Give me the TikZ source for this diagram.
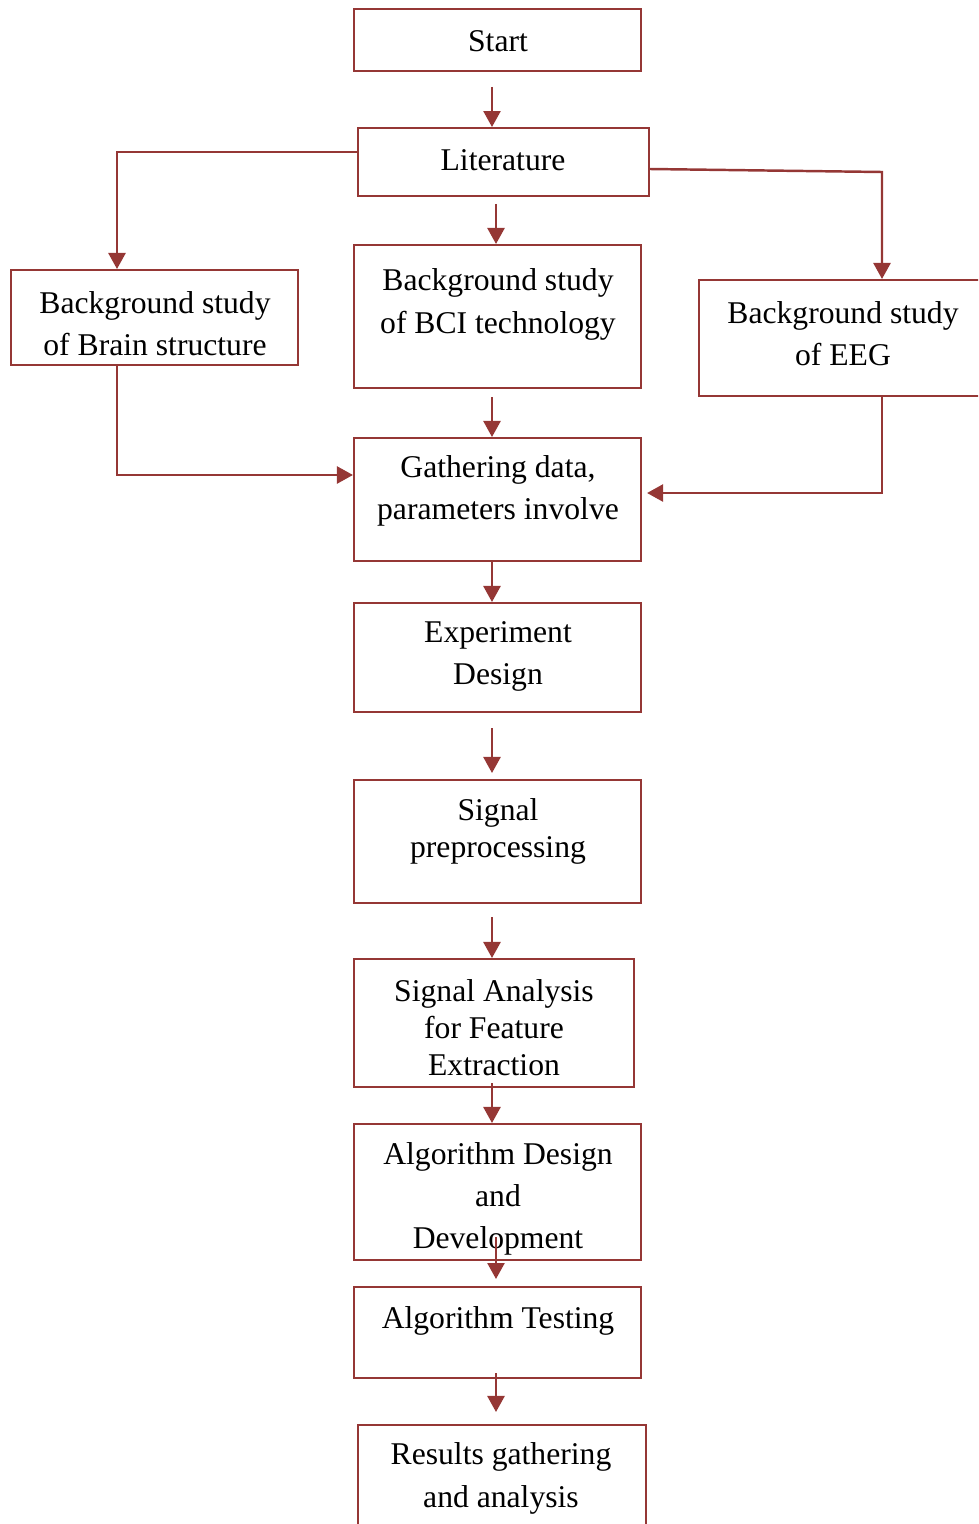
\documentclass[tikz,border=0pt]{standalone}
\usepackage{fontspec}
\setmainfont{Liberation Serif}
\usepackage{tikz}
\usetikzlibrary{arrows.meta,positioning}
\definecolor{boxred}{HTML}{953735}
\tikzstyle{box}=[draw=boxred,line width=0.55pt,inner sep=0pt]
\tikzstyle{txt}=[align=center,inner sep=0pt,yshift=-0.025cm,font=\fontsize{9}{12}\selectfont]
\tikzstyle{tight}=[font=\fontsize{9}{10.5}\selectfont]
\tikzstyle{arr}=[draw=boxred,line width=0.7pt,-{Triangle[length=0.16cm,width=0.17cm]}]

\begin{document}
\begin{tikzpicture}[x=0.01cm,y=-0.01cm]
	\useasboundingbox (0,0) rectangle (978,1524);
	\clip (0,0) rectangle (978,1524);
	\node[box,minimum width=2.87cm,minimum height=0.62cm] (start) at (497.5,40) {};
	\node[box,minimum width=2.91cm,minimum height=0.68cm] (lit) at (503.5,162) {};
	\node[box,minimum width=2.87cm,minimum height=0.95cm] (brain) at (154.5,317.5) {};
	\node[box,minimum width=2.87cm,minimum height=1.43cm] (bci) at (497.5,316.5) {};
	\node[box,minimum width=2.83cm,minimum height=1.16cm] (eeg) at (840.5,338) {};
	\node[box,minimum width=2.87cm,minimum height=1.23cm] (gath) at (497.5,499.5) {};
	\node[box,minimum width=2.87cm,minimum height=1.09cm] (exp) at (497.5,657.5) {};
	\node[box,minimum width=2.87cm,minimum height=1.23cm] (sig) at (497.5,841.5) {};
	\node[box,minimum width=2.80cm,minimum height=1.28cm] (ana) at (494,1023) {};
	\node[box,minimum width=2.87cm,minimum height=1.36cm] (alg) at (497.5,1192) {};
	\node[box,minimum width=2.87cm,minimum height=0.91cm] (test) at (497.5,1332.5) {};
	\node[box,minimum width=2.88cm,minimum height=1.30cm] (res) at (502,1490) {};

	\node[txt] (startT) at (498,39) {Start};
	\node[txt] (litT) at (503,158) {Literature};
	\node[txt] (brainT) at (155,321) {Background study\\of Brain structure};
	\node[txt] (bciT) at (498,302) {Background study\\of BCI technology};
	\node[txt] (eegT) at (843,331) {Background study\\of EEG};
	\node[txt] (gathT) at (498,488.5) {Gathering data,\\parameters involve};
	\node[txt] (expT) at (498,654) {Experiment\\Design};
	\node[txt,tight] (sigT) at (498,828.5) {Signal\\preprocessing};
	\node[txt,tight] (anaT) at (494,1025.5) {Signal Analysis\\for Feature\\Extraction};
	\node[txt] (algT) at (498,1196.5) {Algorithm Design\\and\\Development};
	\node[txt] (testT) at (498,1318) {Algorithm Testing};
	\node[txt] (resT) at (501,1476) {Results gathering\\and analysis};

	\coordinate (r1) at (882,172);
	\draw[arr,shorten <=0.15cm] (start.south -| 492,0) -- (lit.north -| 492,0);
	\draw[arr,shorten <=0.07cm] (lit.south -| 496,0) -- (bci.north -| 496,0);
	\draw[arr] (lit.west |- 0,152) -| (brain.north -| 117,0);
	\draw[arr] (lit.east |- 0,169) -- (r1) -- (eeg.north -| 882,0);
	\draw[arr,shorten <=0.08cm] (bci.south -| 492,0) -- (gath.north -| 492,0);
	\draw[arr] (brain.south -| 117,0) |- (gath.west |- 0,475);
	\draw[arr,shorten >=0.05cm] (eeg.south -| 882,0) |- (gath.east |- 0,493);
	\draw[arr] (gath.south -| 492,0) -- (exp.north -| 492,0);
	\draw[arr,shorten <=0.15cm,shorten >=0.06cm] (exp.south -| 492,0) -- (sig.north -| 492,0);
	\draw[arr,shorten <=0.13cm] (sig.south -| 492,0) -- (ana.north -| 492,0);
	\draw[arr,shorten <=-0.05cm] (ana.south -| 492,0) -- (alg.north -| 492,0);
	\draw[arr,shorten <=-0.24cm,shorten >=0.07cm] (alg.south -| 496,0) -- (test.north -| 496,0);
	\draw[arr,shorten <=-0.06cm,shorten >=0.12cm] (test.south -| 496,0) -- (res.north -| 496,0);
\end{tikzpicture}
\end{document}
